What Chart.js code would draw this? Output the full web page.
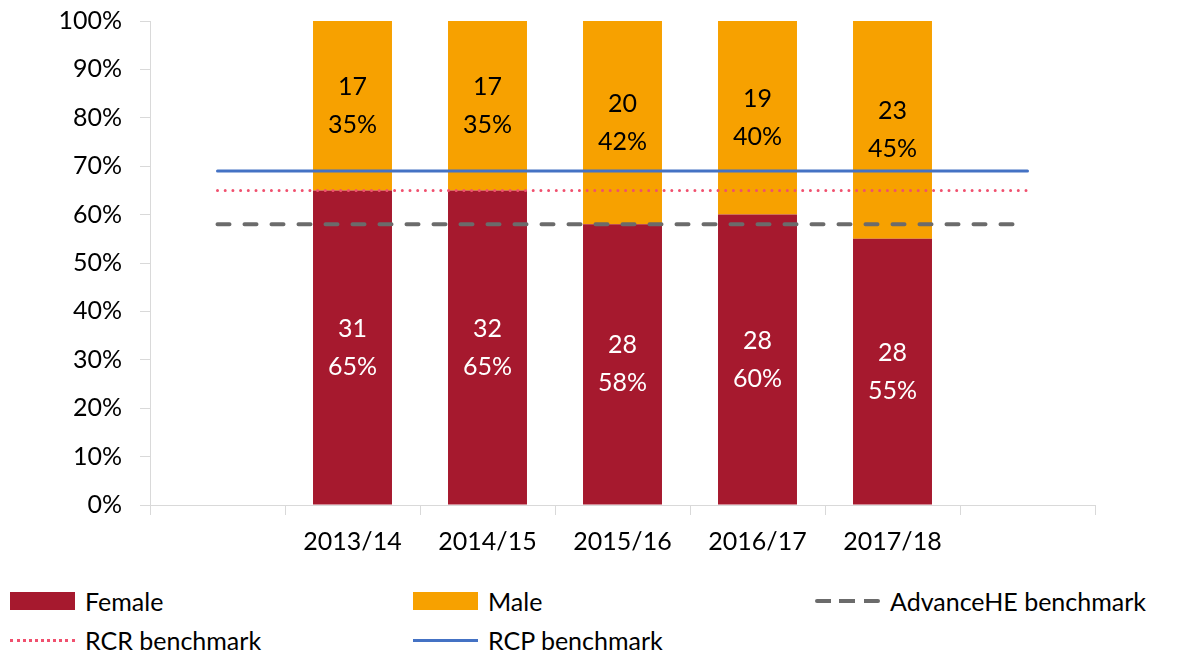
<!DOCTYPE html>
<html lang="en">
<head>
  <meta charset="UTF-8">
  <title>Female / Male share 2013/14 - 2017/18</title>
  <script src="https://cdn.jsdelivr.net/npm/chart.js"></script>
  <style>
    body { margin: 0; background: #fff; font-family: Lato, "Open Sans", sans-serif; }
    .wrap { position: relative; width: 1186px; height: 659px; }
    canvas { position: absolute; left: 0; top: 0; }
    .legend { position: absolute; left: 0; top: 594px; width: 1186px; font-size: 25px; color: #000; }
    .item { position: absolute; display: flex; align-items: center; height: 30px; }
    .sw { width: 65px; margin-right: 10px; }
    .box { height: 18px; }
  </style>
</head>
<body>
<div class="wrap">
  <canvas id="genderChart" width="1186" height="575"></canvas>
  <!-- legend built below from the datasets -->
  <div class="legend" id="legend"></div>
</div>
<script>
// empty slots at both ends so the benchmark lines run past the bars
const categories = ['', '2013/14', '2014/15', '2015/16', '2016/17', '2017/18', ''];
const femaleCount = [null, 31, 32, 28, 28, 28, null];
const maleCount   = [null, 17, 17, 20, 19, 23, null];
const femalePct   = [null, 65, 65, 58, 60, 55, null];
const malePct     = [null, 35, 35, 42, 40, 45, null];
const rcpBench      = [69, 69, 69, 69, 69, 69, 69];
const rcrBench      = [65, 65, 65, 65, 65, 65, 65];
const advanceBench  = [58, 58, 58, 58, 58, 58, 58];
const yTicks = [0, 10, 20, 30, 40, 50, 60, 70, 80, 90, 100];

const FONT = 'Lato, "Open Sans", sans-serif';

// count + percent written in the middle of each bar piece
const barLabels = {
  id: 'barLabels',
  afterDatasetsDraw(chart) {
    const ctx = chart.ctx;
    ctx.save();
    ctx.font = '25px ' + FONT;
    ctx.textAlign = 'center';
    ctx.textBaseline = 'middle';
    chart.data.datasets.forEach((ds, i) => {
      if (!ds.counts) return;
      chart.getDatasetMeta(i).data.forEach((el, j) => {
        if (ds.data[j] == null) return;
        const cy = (el.y + el.base) / 2;
        ctx.fillStyle = ds.labelColor;
        ctx.fillText(ds.counts[j], el.x, cy - 19);
        ctx.fillText(ds.data[j] + '%', el.x, cy + 19);
      });
    });
    ctx.restore();
  }
};

const chart = new Chart(document.getElementById('genderChart'), {
  data: {
    labels: categories,
    datasets: [
      { type: 'line', label: 'RCP benchmark', data: rcpBench, stack: 'rcp',
        borderColor: '#4472C4', borderWidth: 3, pointRadius: 0, borderCapStyle: 'round', order: 0 },
      { type: 'line', label: 'RCR benchmark', data: rcrBench, stack: 'rcr',
        borderColor: '#F0506E', borderWidth: 3, borderDash: [0, 7.7], borderCapStyle: 'round', pointRadius: 0, order: 0 },
      { type: 'line', label: 'AdvanceHE benchmark', data: advanceBench, stack: 'adv',
        borderColor: '#6B6B6B', borderWidth: 4, borderDash: [12, 15], borderCapStyle: 'round', pointRadius: 0, order: 0 },
      { type: 'bar', label: 'Female', data: femalePct, counts: femaleCount, labelColor: '#fff',
        backgroundColor: '#A6192E', stack: 'g', order: 1 },
      { type: 'bar', label: 'Male', data: malePct, counts: maleCount, labelColor: '#000',
        backgroundColor: '#F7A100', stack: 'g', order: 1 }
    ]
  },
  options: {
    responsive: false,
    animation: false,
    datasets: { bar: { barPercentage: 1, categoryPercentage: 0.585 } },
    layout: { padding: { left: 0, right: 91, top: 21, bottom: 0 } },
    plugins: { legend: { display: false }, tooltip: { enabled: false } },
    scales: {
      x: {
        stacked: true,
        afterFit: s => { s.height = 70; },
        grid: { offset: true, drawOnChartArea: false, drawTicks: true, tickLength: 10, color: '#d9d9d9' },
        border: { color: '#d9d9d9', width: 1 },
        ticks: { color: '#000', font: { size: 25, family: FONT }, padding: 12, maxRotation: 0 }
      },
      y: {
        stacked: true,
        min: 0, max: 100,
        afterFit: s => { s.width = 150; s.paddingTop = 0; s.paddingBottom = 0; },
        afterBuildTicks: s => { s.ticks = yTicks.map(v => ({ value: v })); },
        grid: { drawOnChartArea: false, drawTicks: true, tickLength: 10, color: '#d9d9d9' },
        border: { color: '#d9d9d9', width: 1 },
        ticks: { color: '#000', font: { size: 25, family: FONT }, padding: 18,
                 callback: v => v + '%' }
      }
    }
  },
  plugins: [barLabels]
});

// html legend in three columns, like the original sheet
function swatchFor(ds) {
  if (ds.type === 'bar') return `<div class="sw box" style="background:${ds.backgroundColor}"></div>`;
  if (ds.label.startsWith('Advance')) {
    // three long dashes, as in the original legend
    return `<div class="sw" style="height:${ds.borderWidth}px;border-radius:2px;` +
      `background:repeating-linear-gradient(90deg, ${ds.borderColor} 0 16px, transparent 16px 24.5px)"></div>`;
  }
  const style = ds.label.startsWith('RCR') ? 'dotted' : 'solid';
  return `<div class="sw" style="border-top:${ds.borderWidth}px ${style} ${ds.borderColor}"></div>`;
}
const legendPos = {
  'Female': [10, 7], 'Male': [413, 7], 'AdvanceHE benchmark': [815, 7],
  'RCR benchmark': [10, 46], 'RCP benchmark': [413, 46]
};
const legend = document.getElementById('legend');
chart.data.datasets.forEach(ds => {
  const [x, y] = legendPos[ds.label];
  const div = document.createElement('div');
  div.className = 'item';
  div.style.left = x + 'px';
  div.style.top = (y - 15) + 'px';
  div.innerHTML = swatchFor(ds) + `<span>${ds.label}</span>`;
  legend.appendChild(div);
});
</script>
</body>
</html>
